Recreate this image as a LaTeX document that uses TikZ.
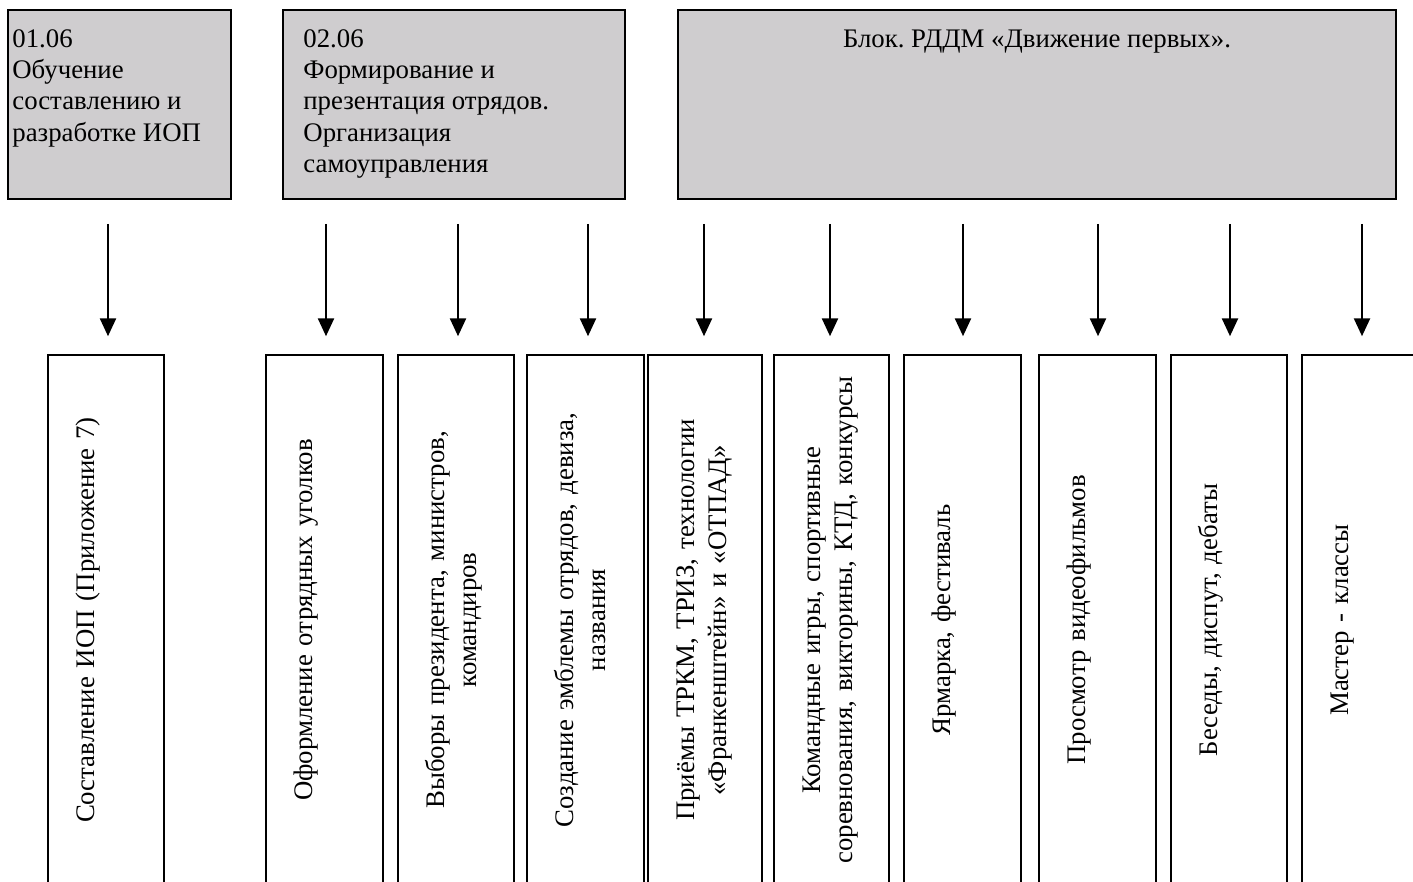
\documentclass[tikz,border=0pt]{standalone}
\usepackage{fontspec}
\setmainfont{Liberation Serif}
\usetikzlibrary{arrows.meta,calc}
\definecolor{boxgray}{RGB}{207,205,207}
\newcommand\boxfont{\fontsize{13.4}{15.6}\selectfont}
\newcommand\vboxfont{\fontsize{13.4}{16.2}\selectfont}
\frenchspacing
\begin{document}
\begin{tikzpicture}[x=0.5pt,y=-0.5pt,
  topbox/.style={draw=black, line width=1pt, fill=boxgray, inner sep=0pt, rectangle, minimum height=94.5pt},
  botbox/.style={draw=black, line width=0.75pt, fill=white, inner sep=0pt, rectangle, minimum height=265pt},
  toptext/.style={anchor=north west, inner sep=0pt, align=left, font=\boxfont},
  vtext/.style={rotate=90, anchor=north, inner sep=0pt, text width=250pt, align=center, font=\vboxfont},
  arr/.style={line width=1.25pt, -{Triangle[width=8pt,length=9pt]}, shorten >=9pt}]

\fill[white] (0,0) rectangle (1413,882);
\useasboundingbox (0,0) rectangle (1413,882);

% top boxes
\node[topbox, minimum width=111.5pt] (t1) at (119.5,104.5) {};
\node[topbox, minimum width=171pt] (t2) at (454,104.5) {};
\node[topbox, minimum width=359pt] (t3) at (1037,104.5) {};

\node[toptext] (l1) at (12,25.3) {\strut 01.06\\Обучение\\составлению и\\разработке ИОП};
\node[toptext] (l2) at (303,25.3) {\strut 02.06\\Формирование и\\презентация отрядов.\\Организация\\самоуправления};
\node[toptext, anchor=north, align=center] (l3) at (1037,25.3) {\strut Блок. РДДМ «Движение первых».};

% bottom boxes
\node[botbox, minimum width=58pt]   (c1)  at (106,620) {};
\node[botbox, minimum width=58.5pt] (c2)  at (324.5,620) {};
\node[botbox, minimum width=58pt]   (c3)  at (456,620) {};
\node[botbox, minimum width=58.5pt] (c4)  at (585.5,620) {};
\node[botbox, minimum width=57pt]   (c5)  at (705,620) {};
\node[botbox, minimum width=57.5pt] (c6)  at (831.5,620) {};
\node[botbox, minimum width=58.5pt] (c7)  at (962.5,620) {};
\node[botbox, minimum width=58.5pt] (c8)  at (1097.5,620) {};
\node[botbox, minimum width=58pt]   (c9)  at (1229,620) {};
\node[botbox, minimum width=59pt]   (c10) at (1361,620) {};

\node[vtext] (v1)  at ($(c1.west)+(24,0)$)  {\strut Составление ИОП (Приложение 7)};
\node[vtext] (v2)  at ($(c2.west)+(24,0)$)  {\strut Оформление отрядных уголков};
\node[vtext] (v3)  at ($(c3.west)+(24,0)$)  {\strut Выборы президента, министров,\\командиров};
\node[vtext] (v4)  at ($(c4.west)+(24,0)$)  {\strut Создание эмблемы отрядов, девиза,\\названия};
\node[vtext] (v5)  at ($(c5.west)+(24,0)$)  {\strut Приёмы ТРКМ, ТРИЗ, технологии\\«Франкенштейн» и «ОТПАД»};
\node[vtext] (v6)  at ($(c6.west)+(24,0)$)  {\strut Командные игры, спортивные\\соревнования, викторины, КТД, конкурсы};
\node[vtext] (v7)  at ($(c7.west)+(24,0)$)  {\strut Ярмарка, фестиваль};
\node[vtext] (v8)  at ($(c8.west)+(24,0)$)  {\strut Просмотр видеофильмов};
\node[vtext] (v9)  at ($(c9.west)+(24,0)$)  {\strut Беседы, диспут, дебаты};
\node[vtext] (v10) at ($(c10.west)+(24,0)$) {\strut Мастер - классы};

% arrows
\coordinate (s1)  at (108,224);
\coordinate (s2)  at (326,224);
\coordinate (s3)  at (458,224);
\coordinate (s4)  at (588,224);
\coordinate (s5)  at (704,224);
\coordinate (s6)  at (830,224);
\coordinate (s7)  at (963,224);
\coordinate (s8)  at (1098,224);
\coordinate (s9)  at (1230,224);
\coordinate (s10) at (1362,224);
\draw[arr] (s1)  -- (s1 |- c1.north);
\draw[arr] (s2)  -- (s2 |- c2.north);
\draw[arr] (s3)  -- (s3 |- c3.north);
\draw[arr] (s4)  -- (s4 |- c4.north);
\draw[arr] (s5)  -- (s5 |- c5.north);
\draw[arr] (s6)  -- (s6 |- c6.north);
\draw[arr] (s7)  -- (s7 |- c7.north);
\draw[arr] (s8)  -- (s8 |- c8.north);
\draw[arr] (s9)  -- (s9 |- c9.north);
\draw[arr] (s10) -- (s10 |- c10.north);
\end{tikzpicture}
\end{document}
